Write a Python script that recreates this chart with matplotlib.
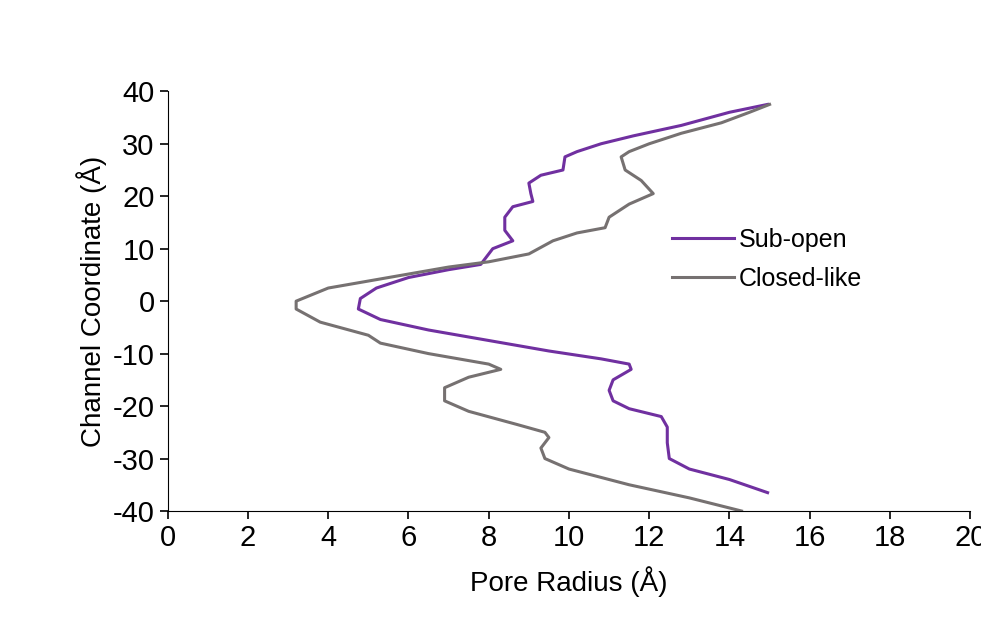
import matplotlib
matplotlib.use("Agg")
import matplotlib.pyplot as plt

plt.rcParams['font.family'] = ['Liberation Sans', 'DejaVu Sans']
plt.rcParams['axes.unicode_minus'] = False

sub_x = [14.95, 14.0, 12.8, 11.6, 10.8, 10.2, 9.9, 9.85, 9.3, 9.0, 9.05, 9.1, 8.6, 8.4, 8.4, 8.6, 8.1, 7.9, 7.8, 7.0, 6.0, 5.2,
         4.8, 4.75, 5.3, 6.5, 8.0, 9.5, 10.8, 11.5, 11.55, 11.1, 11.0, 11.1, 11.5, 12.3, 12.45, 12.45, 12.5, 13.0, 14.0, 14.95]
sub_y = [37.5, 36, 33.5, 31.5, 30, 28.5, 27.5, 25, 24, 22.5, 20.5, 19, 18, 16, 13.5, 11.5, 10, 8, 7, 6, 4.5, 2.5,
         0.5, -1.5, -3.5, -5.5, -7.5, -9.5, -11, -12, -13, -15, -17, -19, -20.5, -22, -24, -27, -30, -32, -34, -36.5]

closed_x = [15.0, 14.5, 13.8, 12.8, 12.0, 11.5, 11.3, 11.4, 11.8, 12.1, 11.5, 11.0, 10.9, 10.2, 9.6, 9.0, 8.0, 7.0, 5.5, 4.0, 3.2, 3.2,
            3.8, 5.0, 5.3, 6.5, 8.0, 8.3, 7.5, 6.9, 6.9, 7.5, 8.7, 9.4, 9.5, 9.3, 9.4, 10.0, 11.5, 13.0, 14.3]
closed_y = [37.5, 36, 34, 32, 30, 28.5, 27.5, 25, 23, 20.5, 18.5, 16, 14, 13, 11.5, 9, 7.5, 6.5, 4.5, 2.5, 0, -1.5,
            -4, -6.5, -8, -10, -12, -13, -14.5, -16.5, -19, -21, -23.5, -25, -26, -28, -30, -32, -35, -37.5, -40]

fig = plt.figure(figsize=(9.81, 6.34), dpi=100)
ax = fig.add_axes([0.171, 0.194, 0.818, 0.662])
ax.plot(sub_x, sub_y, color="#7030A0", lw=2.2, label="Sub-open")
ax.plot(closed_x, closed_y, color="#767171", lw=2.2, label="Closed-like")

ax.set_xlim(0, 20)
ax.set_ylim(-40, 40)
ax.set_xticks(range(0, 21, 2))
ax.set_yticks(range(-40, 41, 10))
for s in ["top", "right"]:
    ax.spines[s].set_visible(False)
ax.tick_params(labelsize=21, length=6, width=1.2)
ax.set_xlabel("Pore Radius (Å)", fontsize=20, labelpad=10)
ax.set_ylabel("Channel Coordinate (Å)", fontsize=20, labelpad=4)
ax.legend(loc="center left", bbox_to_anchor=(0.6, 0.6), frameon=False, fontsize=18,
          handlelength=2.5, handletextpad=0.2, labelspacing=0.6)

fig.savefig("out.png", dpi=100)
